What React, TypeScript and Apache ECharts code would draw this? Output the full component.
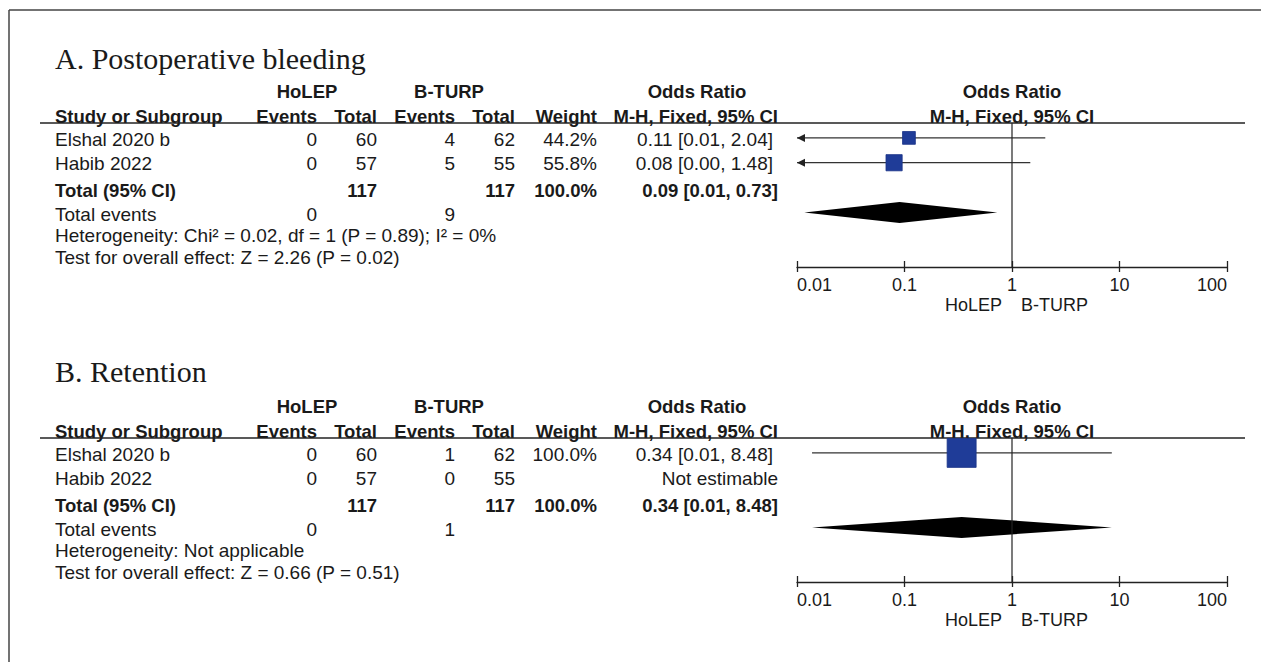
import React, { useEffect, useRef } from 'react';
import * as echarts from 'echarts';

// ---------- data ----------
const panelTitles = ['A. Postoperative bleeding', 'B. Retention'];
const groupHeaders = ['HoLEP', 'B-TURP'];
const studyNames = ['Elshal 2020 b', 'Habib 2022'];

// Panel A – postoperative bleeding
const holepEventsA = [0, 0];
const holepTotalsA = [60, 57];
const bturpEventsA = [4, 5];
const bturpTotalsA = [62, 55];
const weightsA = [44.2, 55.8];
const orA = [0.11, 0.08];
const lowerA = [0.006, 0.004];
const upperA = [2.04, 1.48];
const ciTextA = ['0.11 [0.01, 2.04]', '0.08 [0.00, 1.48]'];

// Panel B – retention
const holepEventsB = [0, 0];
const holepTotalsB = [60, 57];
const bturpEventsB = [1, 0];
const bturpTotalsB = [62, 55];
const weightsB: (number | null)[] = [100.0, null];
const orB: (number | null)[] = [0.34, null];
const lowerB: (number | null)[] = [0.0138, null];
const upperB: (number | null)[] = [8.48, null];
const ciTextB = ['0.34 [0.01, 8.48]', 'Not estimable'];

// Totals per panel [A, B]
const totalHolep = [117, 117];
const totalBturp = [117, 117];
const totalWeight = ['100.0%', '100.0%'];
const pooledOr = [0.09, 0.34];
const pooledLower = [0.0117, 0.0138];
const pooledUpper = [0.73, 8.48];
const pooledText = ['0.09 [0.01, 0.73]', '0.34 [0.01, 8.48]'];
const totalEventsHolep = [0, 0];
const totalEventsBturp = [9, 1];
const heterogeneity = [
  'Heterogeneity: Chi\u00b2 = 0.02, df = 1 (P = 0.89); I\u00b2 = 0%',
  'Heterogeneity: Not applicable',
];
const overallEffect = [
  'Test for overall effect: Z = 2.26 (P = 0.02)',
  'Test for overall effect: Z = 0.66 (P = 0.51)',
];
const tickLabels = ['0.01', '0.1', '1', '10', '100'];
const favourLabels = ['HoLEP', 'B-TURP'];

// ---------- layout ----------
const SANS = '"Liberation Sans", Arial, Helvetica, sans-serif';
const SERIF = '"Liberation Serif", "Times New Roman", serif';
const FS = 19;
const FSB = 18.5;
const TEXT = '#1a1a1a';
const AXIS_MIN = 0.01;
const AXIS_MAX = 100;
const Y_MIN = -0.6;
const Y_MAX = 5.2;
const PANEL_OFF = [0, 315];
const TITLE_Y = [58, 371];

const COL = {
  study: 55,
  holepEv: 317,
  holepTot: 377,
  btEv: 455,
  btTot: 515,
  weight: 597,
  ci: 773,
  ciHead: 778,
};

function txt(x: number, y: number, text: string, opt: { bold?: boolean; align?: string; size?: number; family?: string } = {}) {
  const align = opt.align || 'left';
  const size = opt.size || (opt.bold ? FSB : FS);
  return {
    type: 'text',
    x,
    y,
    silent: true,
    style: {
      text,
      font: `${opt.bold ? 'bold ' : ''}${size}px ${opt.family || SANS}`,
      fill: TEXT,
      align,
      textAlign: align,
      verticalAlign: 'middle',
      textVerticalAlign: 'middle',
    },
  };
}

function hline(x1: number, x2: number, y: number, w = 1.5) {
  return { type: 'line', silent: true, shape: { x1, y1: y, x2, y2: y }, style: { stroke: '#222', lineWidth: w } };
}

function buildPanelGraphics(p: number) {
  const o = PANEL_OFF[p];
  const isA = p === 0;
  const hE = isA ? holepEventsA : holepEventsB;
  const hT = isA ? holepTotalsA : holepTotalsB;
  const bE = isA ? bturpEventsA : bturpEventsB;
  const bT = isA ? bturpTotalsA : bturpTotalsB;
  const w = isA ? weightsA : weightsB;
  const ci = isA ? ciTextA : ciTextB;
  const rowsY = [139, 163];
  const els: any[] = [];
  els.push(txt(COL.study, TITLE_Y[p], panelTitles[p], { size: 30, family: SERIF }));
  // header row 1
  els.push(txt(307, 91 + o, groupHeaders[0], { bold: true, align: 'center' }));
  els.push(txt(449, 91 + o, groupHeaders[1], { bold: true, align: 'center' }));
  els.push(txt(697, 91 + o, 'Odds Ratio', { bold: true, align: 'center' }));
  els.push(txt(1012, 91 + o, 'Odds Ratio', { bold: true, align: 'center' }));
  // header row 2
  const h2 = 116 + o;
  els.push(txt(COL.study, h2, 'Study or Subgroup', { bold: true }));
  els.push(txt(COL.holepEv, h2, 'Events', { bold: true, align: 'right' }));
  els.push(txt(COL.holepTot, h2, 'Total', { bold: true, align: 'right' }));
  els.push(txt(COL.btEv, h2, 'Events', { bold: true, align: 'right' }));
  els.push(txt(COL.btTot, h2, 'Total', { bold: true, align: 'right' }));
  els.push(txt(COL.weight, h2, 'Weight', { bold: true, align: 'right' }));
  els.push(txt(COL.ciHead, h2, 'M-H, Fixed, 95% CI', { bold: true, align: 'right' }));
  els.push(txt(1012, h2, 'M-H, Fixed, 95% CI', { bold: true, align: 'center' }));
  els.push(hline(40, 1245, 123 + o));
  // study rows
  studyNames.forEach((name, i) => {
    const y = rowsY[i] + o;
    els.push(txt(COL.study, y, name));
    els.push(txt(COL.holepEv, y, String(hE[i]), { align: 'right' }));
    els.push(txt(COL.holepTot, y, String(hT[i]), { align: 'right' }));
    els.push(txt(COL.btEv, y, String(bE[i]), { align: 'right' }));
    els.push(txt(COL.btTot, y, String(bT[i]), { align: 'right' }));
    if (w[i] != null) els.push(txt(COL.weight, y, (w[i] as number).toFixed(1) + '%', { align: 'right' }));
    els.push(txt(ci[i] === 'Not estimable' ? COL.ciHead : COL.ci, y, ci[i], { align: 'right' }));
  });
  // total row
  const ty = 190 + o;
  els.push(txt(COL.study, ty, 'Total (95% CI)', { bold: true }));
  els.push(txt(COL.holepTot, ty, String(totalHolep[p]), { bold: true, align: 'right' }));
  els.push(txt(COL.btTot, ty, String(totalBturp[p]), { bold: true, align: 'right' }));
  els.push(txt(COL.weight, ty, totalWeight[p], { bold: true, align: 'right' }));
  els.push(txt(COL.ciHead, ty, pooledText[p], { bold: true, align: 'right' }));
  // total events
  const ey = 214 + o;
  els.push(txt(COL.study, ey, 'Total events'));
  els.push(txt(COL.holepEv, ey, String(totalEventsHolep[p]), { align: 'right' }));
  els.push(txt(COL.btEv, ey, String(totalEventsBturp[p]), { align: 'right' }));
  els.push(txt(COL.study, 235 + o, heterogeneity[p]));
  els.push(txt(COL.study, 257 + o, overallEffect[p]));
  // favours labels
  els.push(txt(1002, 305 + o, favourLabels[0], { align: 'right', size: 18 }));
  els.push(txt(1021, 305 + o, favourLabels[1], { align: 'left', size: 18 }));
  return els;
}

const renderCi = (_params: any, api: any) => {
  const or = api.value(0);
  const lo = api.value(1);
  const hi = api.value(2);
  const row = api.value(3);
  const size = api.value(4);
  const pL = api.coord([Math.max(lo, AXIS_MIN), row]);
  const pR = api.coord([Math.min(hi, AXIS_MAX), row]);
  const pC = api.coord([or, row]);
  const children: any[] = [
    { type: 'line', shape: { x1: pL[0], y1: pL[1], x2: pR[0], y2: pR[1] }, style: { stroke: '#333', lineWidth: 1.2 } },
    {
      type: 'rect',
      shape: { x: pC[0] - size / 2, y: pC[1] - size / 2, width: size, height: size },
      style: { fill: '#1f3c98', stroke: '#1a3388', lineWidth: 0.8 },
    },
  ];
  if (lo < AXIS_MIN) {
    children.push({
      type: 'polygon',
      shape: { points: [[pL[0], pL[1]], [pL[0] + 8, pL[1] - 4], [pL[0] + 8, pL[1] + 4]] },
      style: { fill: '#222' },
    });
  }
  return { type: 'group', children };
};

const renderDiamond = (_params: any, api: any) => {
  const or = api.value(0);
  const lo = api.value(1);
  const hi = api.value(2);
  const row = api.value(3);
  const pL = api.coord([Math.max(lo, AXIS_MIN), row]);
  const pR = api.coord([Math.min(hi, AXIS_MAX), row]);
  const pC = api.coord([or, row]);
  const h = 10.5;
  return {
    type: 'polygon',
    shape: { points: [[pL[0], pL[1]], [pC[0], pC[1] - h], [pR[0], pR[1]], [pC[0], pC[1] + h]] },
    style: { fill: '#000' },
  };
};

export default function App() {
  const ref = useRef<HTMLDivElement>(null);
  useEffect(() => {
    document.body.style.margin = '0';
    document.body.style.overflow = 'hidden';
    if (!ref.current) return;
    const chart = echarts.init(ref.current, undefined, { renderer: 'svg' });

    const grids: any[] = [];
    const xAxes: any[] = [];
    const yAxes: any[] = [];
    const series: any[] = [];
    [0, 1].forEach((p) => {
      const o = PANEL_OFF[p];
      grids.push({ left: 797, width: 430, top: 123 + o, height: 144 });
      const axisBase = {
        type: 'log',
        logBase: 10,
        min: AXIS_MIN,
        max: AXIS_MAX,
        splitNumber: 4,
        gridIndex: p,
        position: 'bottom',
        splitLine: { show: false },
      };
      xAxes.push({
        ...axisBase,
        axisLine: { show: true, onZero: false, lineStyle: { color: '#222', width: 1.3 } },
        axisTick: { show: true, inside: false, length: 5, lineStyle: { color: '#222', width: 1.3 } },
        axisLabel: {
          show: true,
          margin: 9,
          fontSize: 18,
          fontFamily: SANS,
          color: TEXT,
          alignMinLabel: 'left',
          alignMaxLabel: 'right',
          formatter: (v: number) => tickLabels[Math.round(Math.log10(v)) + 2] ?? '',
        },
      });
      xAxes.push({
        ...axisBase,
        axisLine: { show: false, onZero: false },
        axisTick: { show: true, inside: true, length: 6, lineStyle: { color: '#222', width: 1.3 } },
        axisLabel: { show: false },
      });
      yAxes.push({ type: 'value', gridIndex: p, min: Y_MIN, max: Y_MAX, inverse: true, show: false });

      const isA = p === 0;
      const ors = isA ? orA : orB;
      const los = isA ? lowerA : lowerB;
      const his = isA ? upperA : upperB;
      const ws = isA ? weightsA : weightsB;
      const ciData: any[] = [];
      ors.forEach((v, i) => {
        if (v != null) ciData.push([v, los[i], his[i], i, (ws[i] as number) * 0.29]);
      });
      series.push({
        type: 'line',
        xAxisIndex: p * 2,
        yAxisIndex: p,
        data: [[1, Y_MIN], [1, Y_MAX]],
        symbol: 'none',
        silent: true,
        lineStyle: { color: '#222', width: 1.2 },
      });
      series.push({ type: 'custom', xAxisIndex: p * 2, yAxisIndex: p, renderItem: renderCi, data: ciData, silent: true });
      series.push({
        type: 'custom',
        xAxisIndex: p * 2,
        yAxisIndex: p,
        renderItem: renderDiamond,
        data: [[pooledOr[p], pooledLower[p], pooledUpper[p], 3]],
        silent: true,
      });
    });

    const graphics: any[] = [
      { type: 'line', silent: true, shape: { x1: 9, y1: 10, x2: 1261, y2: 10 }, style: { stroke: '#444', lineWidth: 1.5 } },
      { type: 'line', silent: true, shape: { x1: 9, y1: 10, x2: 9, y2: 662 }, style: { stroke: '#444', lineWidth: 1.5 } },
      ...buildPanelGraphics(0),
      ...buildPanelGraphics(1),
    ];

    chart.setOption({
      animation: false,
      backgroundColor: '#ffffff',
      grid: grids,
      xAxis: xAxes,
      yAxis: yAxes,
      series,
      graphic: graphics,
    });
    return () => chart.dispose();
  }, []);
  return <div ref={ref} style={{ width: 1261, height: 662 }} />;
}
